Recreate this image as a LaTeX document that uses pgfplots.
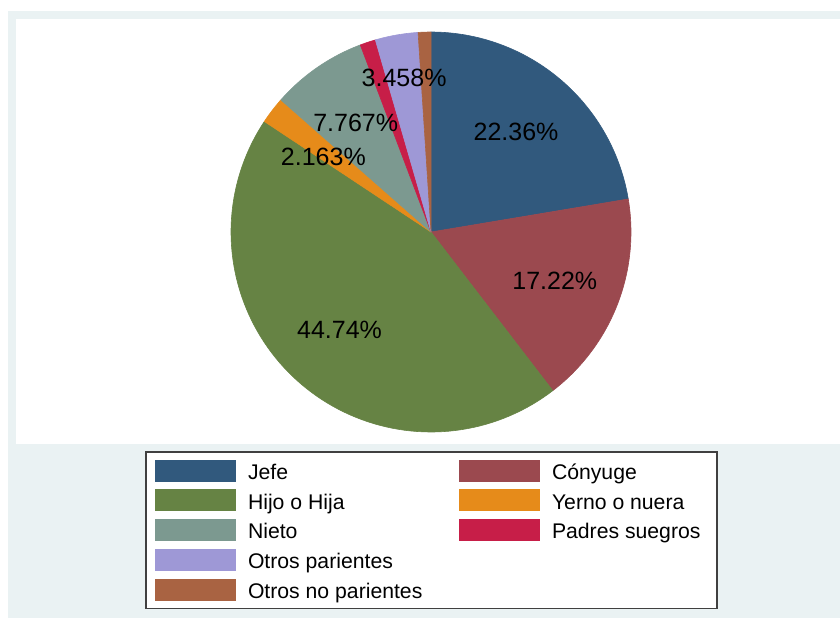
\documentclass[border=0pt]{standalone}
\usepackage{pgfplots}
\usepackage{pgfplotstable}
\pgfplotsset{compat=1.18}
\usepackage{fontspec}
\setmainfont{Liberation Sans}
\definecolor{bgc}{RGB}{234,242,243}
\definecolor{pie0}{RGB}{49,89,125}
\definecolor{pie1}{RGB}{155,73,79}
\definecolor{pie2}{RGB}{102,131,68}
\definecolor{pie3}{RGB}{230,139,26}
\definecolor{pie4}{RGB}{124,153,144}
\definecolor{pie5}{RGB}{199,30,72}
\definecolor{pie6}{RGB}{158,152,214}
\definecolor{pie7}{RGB}{169,99,66}
% share of each category (percent), radial position of its label (0 = no label), label angle offset
\pgfplotstableread{
pct lr da
22.36 0.658 0
17.22 0.665 0
44.74 0.67 0
2.163 0.655 2.7
7.767 0.662 0
1.262 0 0
3.458 0.78 0
1.030 0 0
}\piedata
\tikzset{pielabel/.style={font=\fontsize{12.5bp}{14bp}\selectfont, inner sep=0pt, anchor=center}}
\begin{document}
\begin{tikzpicture}
\begin{scope}[x=0.5bp,y=-0.5bp]
\fill[white] (0,0) rectangle (840,618);
\fill[bgc] (8,11) rectangle (840,618);
\fill[white] (16,19) rectangle (840,444);
\end{scope}
\begin{axis}[at={(215.5bp,-116bp)}, anchor=center,
  width=200bp, height=200bp, scale only axis,
  xmin=-1, xmax=1, ymin=-1, ymax=1, hide axis, clip=false,
  legend columns=2, legend cell align=left,
  legend image code/.code={\fill[#1, draw=none] (0bp,-5.5bp) rectangle (40.5bp,5.5bp);},
  legend style={at={(-0.2125,-0.05)}, anchor=north west, draw=black!75,
    line width=0.7bp, fill=white, inner xsep=4.5bp, inner ysep=3.8bp, outer sep=0pt,
    column sep=6bp, row sep=3.875bp,
    font=\fontsize{10.6bp}{12bp}\selectfont,
    nodes={inner sep=0pt, text height=7.6bp, text depth=0pt, yshift=-0.6bp}},
]
\pgfmathsetmacro\cum{0}
\pgfplotsforeachungrouped \i in {0,...,7}{%
  \pgfplotstablegetelem{\i}{pct}\of\piedata \let\v\pgfplotsretval
  \pgfmathsetmacro\a{90-3.6*(\cum+\v)}%
  \pgfmathsetmacro\b{90-3.6*\cum}%
  \edef\tmp{\noexpand\addplot[fill=pie\i, draw=pie\i, line width=0.3bp, line join=round, domain=\a:\b, samples=90, forget plot] ({cos(x)},{sin(x)}) -- (0,0) -- cycle;}%
  \tmp
  \pgfmathsetmacro\cum{\cum+\v}%
}
\pgfmathsetmacro\cum{0}
\pgfplotsforeachungrouped \i in {0,...,7}{%
  \pgfplotstablegetelem{\i}{pct}\of\piedata \let\v\pgfplotsretval
  \pgfplotstablegetelem{\i}{lr}\of\piedata \let\lr\pgfplotsretval
  \pgfplotstablegetelem{\i}{da}\of\piedata \let\da\pgfplotsretval
  \pgfmathsetmacro\m{90-3.6*(\cum+\v/2)+\da}%
  \pgfmathsetmacro\lx{\lr*cos(\m)}%
  \pgfmathsetmacro\ly{\lr*sin(\m)}%
  \ifdim\lr pt>0pt
    \edef\tmp{\noexpand\node[pielabel] at (axis cs:\lx,\ly) {\v\noexpand\%};}%
    \tmp
  \fi
  \pgfmathsetmacro\cum{\cum+\v}%
}
\addlegendimage{fill=pie0}\addlegendentry{\makebox[99.5bp][l]{Jefe}}
\addlegendimage{fill=pie1}\addlegendentry{\makebox[78bp][l]{Cónyuge}}
\addlegendimage{fill=pie2}\addlegendentry{\makebox[99.5bp][l]{Hijo o Hija}}
\addlegendimage{fill=pie3}\addlegendentry{\makebox[78bp][l]{Yerno o nuera}}
\addlegendimage{fill=pie4}\addlegendentry{\makebox[99.5bp][l]{Nieto}}
\addlegendimage{fill=pie5}\addlegendentry{\makebox[78bp][l]{Padres suegros}}
\addlegendimage{fill=pie6}\addlegendentry{\makebox[99.5bp][l]{Otros parientes}}
\addlegendimage{empty legend}\addlegendentry{}
\addlegendimage{fill=pie7}\addlegendentry{\makebox[99.5bp][l]{Otros no parientes}}
\end{axis}
\pgfresetboundingbox
\path[use as bounding box] (0,0) rectangle (420bp,-309bp);
\end{tikzpicture}
\end{document}
